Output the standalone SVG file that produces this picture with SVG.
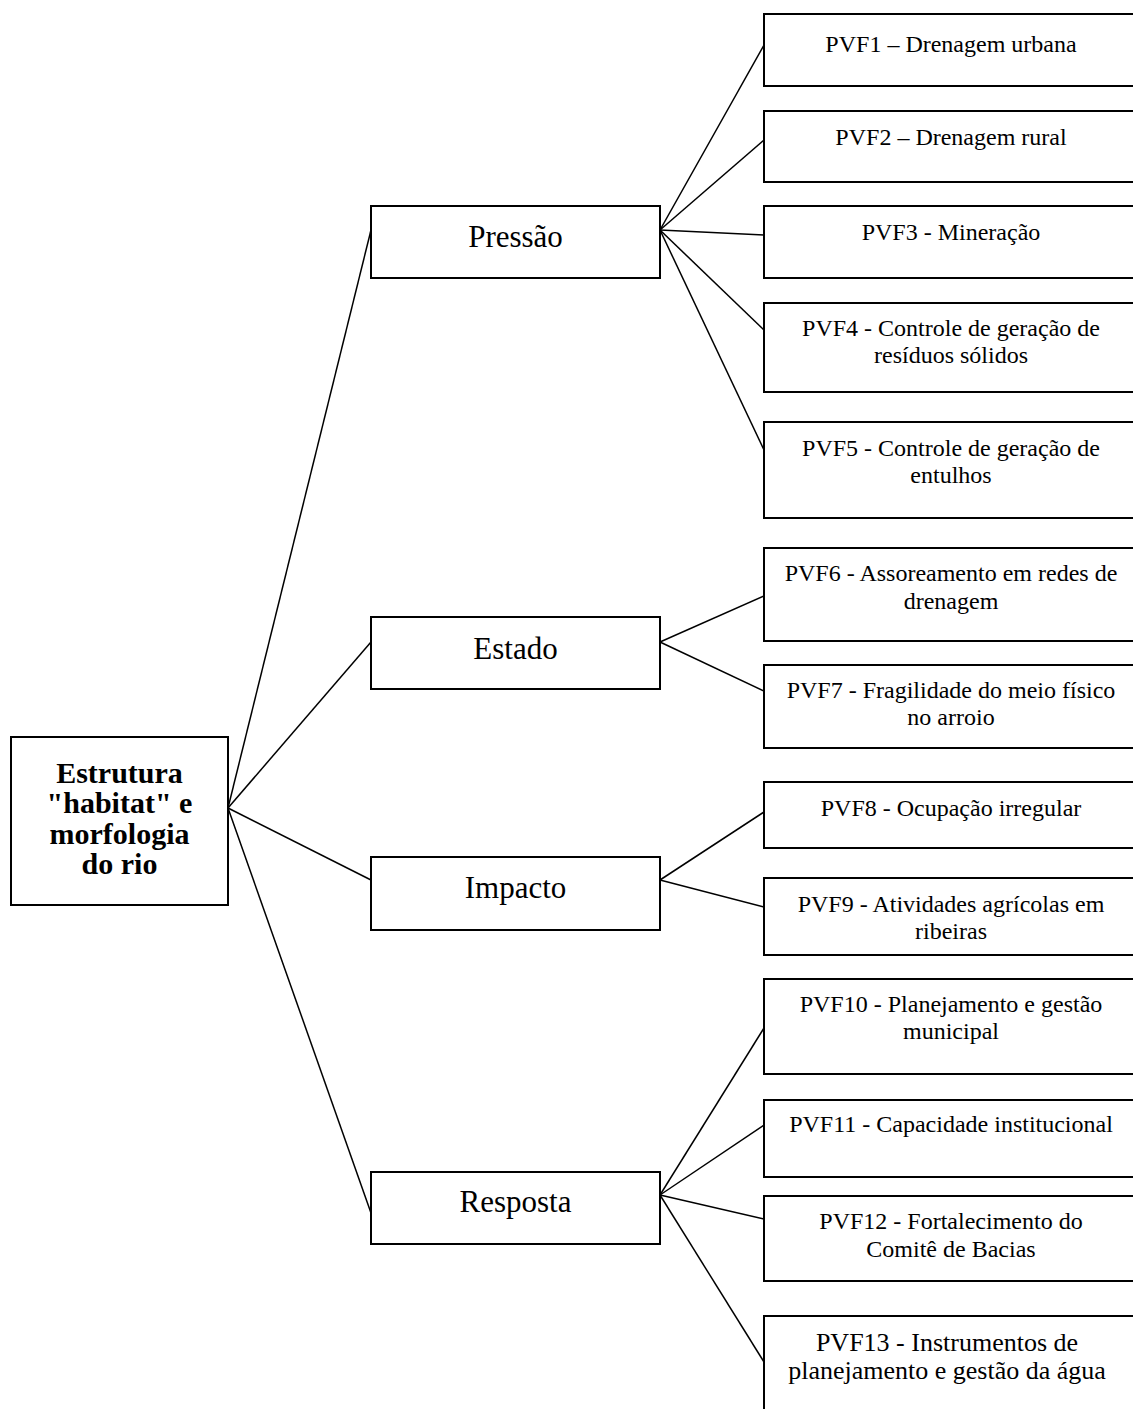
<svg xmlns="http://www.w3.org/2000/svg" width="1133" height="1409" viewBox="0 0 1133 1409">
<style>
rect{fill:#fff;stroke:#000;stroke-width:2}
text{font-family:"Liberation Serif","Times New Roman",serif;fill:#000;text-anchor:middle}
.r{font-size:24px}
.m{font-size:31px}
.b{font-size:30px;font-weight:bold}
.c line{stroke:#000;stroke-width:1.5}
</style>
<rect x="0" y="0" width="1133" height="1409" style="stroke:none"/>
<g class="c" id="connectors">
<line x1="228" y1="808" x2="371" y2="230"/>
<line x1="228" y1="808" x2="371" y2="642"/>
<line x1="228" y1="808" x2="371" y2="880"/>
<line x1="228" y1="808" x2="371" y2="1213"/>
<line x1="660" y1="230" x2="764" y2="45"/>
<line x1="660" y1="230" x2="764" y2="140"/>
<line x1="660" y1="230" x2="764" y2="235"/>
<line x1="660" y1="230" x2="764" y2="330"/>
<line x1="660" y1="230" x2="764" y2="450"/>
<line x1="660" y1="642" x2="764" y2="596"/>
<line x1="660" y1="642" x2="764" y2="691"/>
<line x1="660" y1="880" x2="764" y2="812"/>
<line x1="660" y1="880" x2="764" y2="907"/>
<line x1="660" y1="1195" x2="764" y2="1028"/>
<line x1="660" y1="1195" x2="764" y2="1125"/>
<line x1="660" y1="1195" x2="764" y2="1219"/>
<line x1="660" y1="1195" x2="764" y2="1362"/>
</g>
<g id="root">
<rect x="11" y="737" width="217" height="168"/>
<text class="b" x="119.5" y="783">Estrutura</text>
<text class="b" x="119.5" y="813">"habitat" e</text>
<text class="b" x="119.5" y="844">morfologia</text>
<text class="b" x="119.5" y="874">do rio</text>
</g>
<g id="pressao"><rect x="371" y="206" width="289" height="72"/><text class="m" x="515.5" y="247">Pressão</text></g>
<g id="estado"><rect x="371" y="617" width="289" height="72"/><text class="m" x="515.5" y="659">Estado</text></g>
<g id="impacto"><rect x="371" y="857" width="289" height="73"/><text class="m" x="515.5" y="898">Impacto</text></g>
<g id="resposta"><rect x="371" y="1172" width="289" height="72"/><text class="m" x="515.5" y="1212">Resposta</text></g>
<g id="pvf1"><rect x="764" y="14" width="380" height="72"/><text class="r" x="951" y="52">PVF1 – Drenagem urbana</text></g>
<g id="pvf2"><rect x="764" y="111" width="380" height="71"/><text class="r" x="951" y="145">PVF2 – Drenagem rural</text></g>
<g id="pvf3"><rect x="764" y="206" width="380" height="72"/><text class="r" x="951" y="240">PVF3 - Mineração</text></g>
<g id="pvf4"><rect x="764" y="303" width="380" height="89"/><text class="r" x="951" y="336">PVF4 - Controle de geração de</text><text class="r" x="951" y="363">resíduos sólidos</text></g>
<g id="pvf5"><rect x="764" y="422" width="380" height="96"/><text class="r" x="951" y="456">PVF5 - Controle de geração de</text><text class="r" x="951" y="483">entulhos</text></g>
<g id="pvf6"><rect x="764" y="548" width="380" height="93"/><text class="r" x="951" y="581">PVF6 - Assoreamento em redes de</text><text class="r" x="951" y="609">drenagem</text></g>
<g id="pvf7"><rect x="764" y="665" width="380" height="83"/><text class="r" x="951" y="698">PVF7 - Fragilidade do meio físico</text><text class="r" x="951" y="725">no arroio</text></g>
<g id="pvf8"><rect x="764" y="782" width="380" height="66"/><text class="r" x="951" y="816">PVF8 - Ocupação irregular</text></g>
<g id="pvf9"><rect x="764" y="878" width="380" height="77"/><text class="r" x="951" y="912">PVF9 - Atividades agrícolas em</text><text class="r" x="951" y="939">ribeiras</text></g>
<g id="pvf10"><rect x="764" y="979" width="380" height="95"/><text class="r" x="951" y="1012">PVF10 - Planejamento e gestão</text><text class="r" x="951" y="1039">municipal</text></g>
<g id="pvf11"><rect x="764" y="1100" width="380" height="77"/><text class="r" x="951" y="1132">PVF11 - Capacidade institucional</text></g>
<g id="pvf12"><rect x="764" y="1196" width="380" height="85"/><text class="r" x="951" y="1229">PVF12 - Fortalecimento do</text><text class="r" x="951" y="1257">Comitê de Bacias</text></g>
<g id="pvf13"><rect x="764" y="1316" width="380" height="120"/><text x="947" y="1351" style="font-size:26px">PVF13 - Instrumentos de</text><text x="947" y="1379" style="font-size:26px">planejamento e gestão da água</text></g>
</svg>
